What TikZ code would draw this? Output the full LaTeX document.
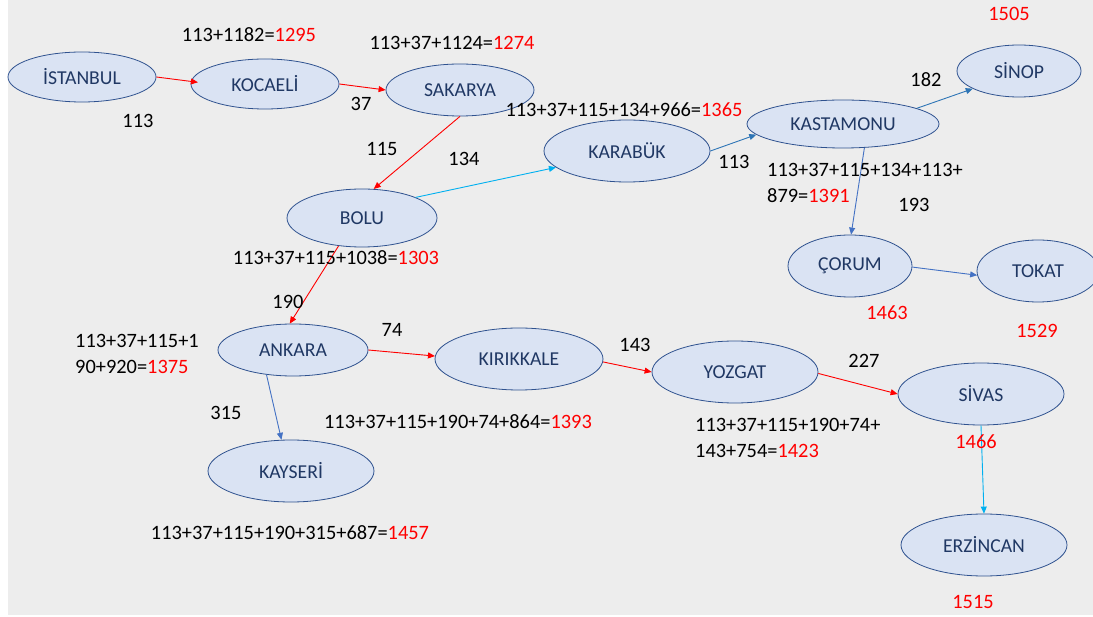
\documentclass[tikz,border=0pt]{standalone}
\usepackage{fontspec}
\setmainfont{Carlito}
\usetikzlibrary{shapes.geometric,arrows.meta}
\definecolor{bggray}{HTML}{EDEDED}
\definecolor{cityfill}{HTML}{DAE3F3}
\definecolor{cityline}{HTML}{2F528F}
\definecolor{citytext}{HTML}{203864}
\definecolor{lred}{HTML}{FF0000}
\definecolor{lblue}{HTML}{2E75B6}
\definecolor{lcyan}{HTML}{00B0F0}
\definecolor{lmid}{HTML}{4472C4}
\tikzset{
  city/.style={ellipse,draw=cityline,fill=cityfill,line width=0.8pt,inner sep=0pt,
    text=citytext,font=\fontsize{19.7}{22}\selectfont},
  lbl/.style={inner sep=0pt,font=\fontsize{20.4}{26}\selectfont,text=black},
  rlbl/.style={lbl,text=lred},
  conn/.style={line width=0.9pt,-{Triangle[length=7pt,width=6pt]}},
  redc/.style={conn,draw=lred},
  bluec/.style={conn,draw=lblue},
  cyanc/.style={conn,draw=lcyan},
  midc/.style={conn,draw=lmid}
}
\newcommand{\rd}[1]{\textcolor{lred}{#1}}
\begin{document}
\begin{tikzpicture}[x=1pt,y=-1pt]
\useasboundingbox (0,0) rectangle (1093,617);
\fill[white] (0,0) rectangle (1093,617);
\fill[bggray] (8,0) rectangle (1093,615);
% cities
\node[city,minimum width=148pt,minimum height=50pt] (ist) at (82,77) {İSTANBUL};
\node[city,minimum width=148pt,minimum height=50pt] (koc) at (265,84) {KOCAELİ};
\node[city,minimum width=148pt,minimum height=52pt] (sak) at (460,90) {SAKARYA};
\node[city,minimum width=166pt,minimum height=62pt] (kar) at (627,151) {KARABÜK};
\node[city,minimum width=192pt,minimum height=48pt] (kas) at (843,124) {KASTAMONU};
\node[city,minimum width=124pt,minimum height=52pt] (sin) at (1019,71) {SİNOP};
\node[city,minimum width=124pt,minimum height=62pt] (cor) at (850,266) {ÇORUM};
\node[city,minimum width=122pt,minimum height=62pt] (tok) at (1038,271) {TOKAT};
\node[city,minimum width=150pt,minimum height=58pt] (bolu) at (362,218) {BOLU};
\node[city,minimum width=150pt,minimum height=52pt] (ank) at (293,350) {ANKARA};
\node[city,minimum width=166pt,minimum height=62pt] (kay) at (291,471) {KAYSERİ};
\node[city,minimum width=168pt,minimum height=62pt] (kir) at (519,359) {KIRIKKALE};
\node[city,minimum width=166pt,minimum height=62pt] (yoz) at (735,372) {YOZGAT};
\node[city,minimum width=166pt,minimum height=62pt] (siv) at (981,394) {SİVAS};
\node[city,minimum width=166pt,minimum height=62pt] (erz) at (984,545) {ERZİNCAN};
% connectors
\draw[redc,shorten >=-7pt] (ist.east) -- (koc.178);
\draw[redc] (koc.east) -- (sak.west);
\draw[redc] (sak.south) -- (bolu.68);
\draw[cyanc] (bolu.21) -- (kar.193);
\draw[bluec] (kar.east) -- (kas.187);
\draw[bluec] (kas.12) -- (sin.201);
\draw[midc] (kas.312) -- (cor.88);
\draw[midc] (cor.359) -- (tok.184);
\draw[redc] (bolu.230) -- (ank.97);
\draw[redc] (ank.east) -- (kir.178);
\draw[midc] (ank.223) -- (kay.107);
\draw[redc] (kir.358) -- (yoz.west);
\draw[redc] (yoz.359) -- (siv.west);
\draw[cyanc] (siv.south) -- (erz.north);
% labels
\node[lbl] (t1) at (249,35) {113+1182=\rd{1295}};
\node[lbl] (t2) at (452,43) {113+37+1124=\rd{1274}};
\node[lbl] (t3) at (138,121) {113};
\node[lbl] (t4) at (361,104) {37};
\node[lbl] (t5) at (382,149) {115};
\node[lbl] (t6) at (464,159) {134};
\node[lbl] (t7) at (624,110) {113+37+115+134+966=\rd{1365}};
\node[lbl] (t8) at (734,162) {113};
\node[lbl] (t9) at (926,80) {182};
\node[rlbl] (t10) at (1009,14) {1505};
\node[lbl,align=left,anchor=west] (t11) at (767,183) {113+37+115+134+113+\\879=\rd{1391}};
\node[lbl] (t12) at (914,205) {193};
\node[rlbl] (t13) at (887,313) {1463};
\node[rlbl] (t14) at (1037,331) {1529};
\node[lbl,align=left,anchor=west] (t15) at (75,354) {113+37+115+1\\90+920=\rd{1375}};
\node[lbl] (t16) at (288,302) {190};
\node[lbl] (t17) at (392,330) {74};
\node[lbl] (t18) at (226,413) {315};
\node[lbl] (t19) at (458,422) {113+37+115+190+74+864=\rd{1393}};
\node[lbl] (t20) at (290,533) {113+37+115+190+315+687=\rd{1457}};
\node[lbl] (t21) at (635,345) {143};
\node[lbl] (t22) at (864,361) {227};
\node[lbl,align=left,anchor=west] (t23) at (695,438) {113+37+115+190+74+\\143+754=\rd{1423}};
\node[rlbl] (t24) at (976,442) {1466};
\node[rlbl] (t25) at (973,602) {1515};
\node[lbl] (t26) at (336,258) {113+37+115+1038=\rd{1303}};
\end{tikzpicture}
\end{document}
